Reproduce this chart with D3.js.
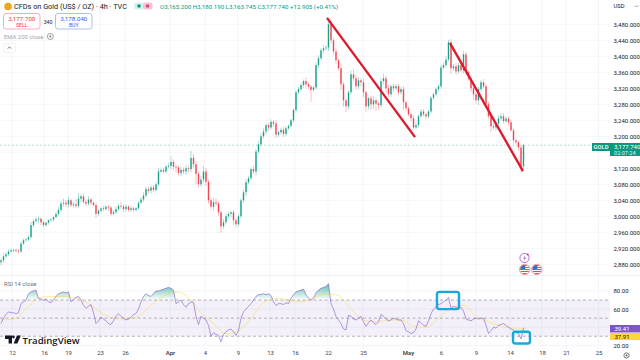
<!DOCTYPE html>
<html>
<head>
<meta charset="utf-8">
<script src="https://cdnjs.cloudflare.com/ajax/libs/d3/7.8.5/d3.min.js"></script>
<style>
html, body { margin: 0; padding: 0; background: #fff; overflow: hidden; }
svg { display: block; font-family: Roboto, sans-serif; }
</style>
</head>
<body>
<div id="chart"></div>
<script>
const closes = [
  2890,2900,2905,2912,2915,2916,2914,2912,2932,2940,
  2942,2948,2978,2988,2992,2994,2985,2978,2984,2990,
  2992,2998,3006,3016,3032,3034,3030,3040,3028,3030,
  3026,3044,3050,3036,3032,3042,3034,3028,3006,3014,
  3020,3018,3024,3022,3006,3010,3018,3026,3024,3018,
  3024,3016,3020,3016,3020,3034,3042,3052,3068,3064,
  3072,3066,3080,3112,3116,3112,3124,3126,3136,3124,
  3122,3108,3116,3112,3120,3118,3146,3130,3106,3080,
  3092,3112,3086,3040,3024,3035,3032,3010,2975,2985,
  3000,3006,3010,2990,2980,3000,3040,3060,3085,3095,
  3118,3112,3162,3180,3200,3212,3228,3222,3236,3232,
  3204,3210,3216,3206,3220,3226,3240,3266,3310,3318,
  3328,3338,3330,3324,3316,3322,3378,3395,3415,3420,
  3422,3480,3440,3412,3390,3370,3330,3290,3275,3310,
  3355,3345,3325,3340,3335,3310,3275,3295,3280,3290,
  3282,3278,3338,3345,3320,3305,3325,3320,3325,3310,
  3318,3285,3270,3255,3245,3222,3228,3250,3262,3255,
  3250,3262,3296,3305,3318,3325,3372,3378,3392,3435,
  3370,3375,3362,3378,3365,3405,3360,3345,3320,3305,
  3290,3318,3335,3325,3280,3250,3225,3222,3232,3245,
  3250,3238,3244,3235,3215,3190,3185,3172,3125,3177.74
];
const firstOpen = 2885;
const upperWick = [
  6,8,5,6,4,3,3,4,5,4,
  3,6,8,4,6,5,3,2,2,3,
  3,2,4,8,6,10,6,8,4,6,
  12,14,6,6,4,8,4,3,6,4,
  4,6,4,4,3,6,6,5,10,6,
  6,4,6,4,3,4,6,8,6,6,
  6,6,6,8,4,6,4,8,14,6,
  5,4,8,6,8,6,18,10,8,6,
  8,14,8,6,6,10,10,6,5,8,
  6,5,4,6,6,5,5,6,8,6,
  4,8,6,8,8,8,6,6,6,5,
  8,4,6,8,5,4,4,4,5,5,
  6,4,10,6,5,4,6,8,6,8,
  6,10,12,6,8,5,12,6,4,5,
  10,12,8,8,6,8,4,4,6,10,
  6,5,8,12,6,8,4,6,6,6,
  5,8,5,5,4,8,6,5,6,6,
  4,4,5,4,4,5,6,6,8,6,
  8,6,8,6,6,8,6,5,8,6,
  5,4,6,8,6,6,5,8,6,8,
  8,8,6,6,6,5,4,5,4,4
];
const lowerWick = [
  8,6,5,4,4,5,4,5,3,4,
  4,5,6,5,6,10,8,6,4,5,
  4,5,3,4,6,8,6,8,5,6,
  6,5,8,5,6,5,6,4,10,5,
  5,5,4,8,5,4,5,4,5,8,
  6,5,6,5,4,3,4,6,5,6,
  8,6,5,4,4,5,5,4,8,8,
  12,6,8,6,8,8,8,8,25,8,
  6,8,10,8,6,10,6,8,16,6,
  5,6,8,12,8,6,5,6,10,5,
  5,6,10,6,5,5,8,8,5,8,
  8,6,6,8,5,4,4,5,6,5,
  5,6,8,6,30,5,5,8,6,8,
  6,8,8,8,8,6,14,16,14,8,
  6,6,8,8,10,12,14,8,14,12,
  18,12,6,8,10,6,6,8,5,8,
  6,20,8,6,8,6,5,6,5,6,
  6,5,5,5,5,5,6,4,6,6,
  14,6,8,6,6,8,8,6,8,14,
  8,12,6,4,5,6,14,6,8,6,
  6,6,5,8,5,8,6,8,16,5
];
const rsi = [
  44,50,54,57,56,56,55,56,66,68,
  70,77,79,80,81,72,71,70,71,68,
  67,70,74,77,78,79,78,79,68,71,
  73,74,70,64,61,63,65,56,44,47,
  51,49,47,44,43,47,52,55,52,50,
  48,49,51,54,55,60,68,74,77,75,
  74,77,80,80,81,82,83,84,83,81,
  66,68,70,65,62,66,68,67,52,43,
  52,50,48,42,30,34,32,31,24,32,
  35,37,38,35,31,36,50,57,60,63,
  66,70,74,76,76,77,76,77,75,68,
  64,66,66,65,67,66,72,76,79,80,
  81,82,76,72,70,72,78,81,83,84,
  85,88,66,60,52,48,44,38,37,53,
  52,49,48,50,52,46,41,45,48,45,
  43,46,54,52,49,47,48,50,49,48,
  48,44,36,35,33,34,38,47,45,42,
  41,47,55,60,62,65,66,68,70,73,
  61,63,62,60,62,58,49,48,47,49,
  50,49,50,50,42,33,36,40,39,42,
  43,44,42,40,38,37,34,33,27,39.41
];
// rsi average, one reading every 5 bars
const rsiAvg = [48,49,60,72,74,74,72,66,56,50,49,52,64,74,79,73,56,44,33,36,50,67,72,70,68,72,77,75,60,48,46,48,48,41,40,50,61,64,52,46,41,39,37.91];
const rsiAvgStep = 5;

const priceTicks = [3480,3440,3400,3360,3320,3280,3240,3200,3120,3080,3040,3000,2960,2920,2880];
const priceGrid = [3480,3440,3400,3360,3320,3280,3240,3200,3160,3120,3080,3040,3000,2960,2920,2880];
const rsiTicks = [80,60,20];
const rsiGrid = [80,60,40,20];
const dateTickBars = [4.4,17.2,26.8,39.6,49.6,67.6,81.6,94.8,107.6,117.6,130.8,144.8,162.8,176,190,203.6,216.4,226,239];
const dateTickLabels = ["12","16","19","23","26","Apr","4","9","13","16","22","25","May","6","9","14","18","21","25"];

const lastPrice = 3177.74;
// hand drawn trend lines: bar, price, bar, price
const trendLines = [[130.4,3496,165.6,3198],[179.6,3433,208.8,3113]];
// highlight boxes on the rsi pane: bar, rsi top, bar, rsi bottom
const rsiBoxes = [[174.4,79,183.2,60],[204.8,35,211.6,22]];

const W = 640, H = 360, axisX = 610;
const UP = "#089981", DOWN = "#F23645", INK = "#131722";

const x = d3.scaleLinear().domain([0,256]).range([1,641]);
const y = d3.scaleLinear().domain([3480,2880]).range([24.3,264.3]);
const yr = d3.scaleLinear().domain([80,20]).range([291,345.3]);

const svg = d3.select("#chart").append("svg").attr("width",W).attr("height",H);
svg.append("rect").attr("width",W).attr("height",H).attr("fill","#fff");

// grid
svg.append("g").selectAll("line").data(dateTickBars).enter().append("line")
    .attr("x1",d => x(d)).attr("x2",d => x(d)).attr("y1",0).attr("y2",349)
    .attr("stroke","#f3f5fa").attr("stroke-width",1);
svg.append("g").selectAll("line").data(priceGrid).enter().append("line")
    .attr("x1",0).attr("x2",axisX).attr("y1",d => y(d)).attr("y2",d => y(d))
    .attr("stroke","#f3f5fa");
svg.append("g").selectAll("line").data(rsiGrid).enter().append("line")
    .attr("x1",0).attr("x2",axisX).attr("y1",d => yr(d)).attr("y2",d => yr(d))
    .attr("stroke","#f3f5fa");
svg.append("line").attr("x1",0).attr("x2",W).attr("y1",275.5).attr("y2",275.5).attr("stroke","#eceef3");

// candles
const bars = closes.map((c,i) => {
    const o = i ? closes[i-1] : firstOpen;
    return { i, o, c, h: Math.max(o,c) + upperWick[i], l: Math.min(o,c) - lowerWick[i] };
});
const candle = svg.append("g").selectAll("g").data(bars).enter().append("g")
    .attr("fill",d => d.c >= d.o ? UP : DOWN)
    .attr("stroke",d => d.c >= d.o ? UP : DOWN);
candle.append("line")
    .attr("x1",d => x(d.i)).attr("x2",d => x(d.i))
    .attr("y1",d => y(d.h)).attr("y2",d => y(d.l))
    .attr("stroke-width",0.6).attr("stroke-opacity",0.55);
candle.append("rect")
    .attr("x",d => x(d.i)-0.7).attr("width",1.4)
    .attr("y",d => Math.min(y(d.o),y(d.c)))
    .attr("height",d => Math.max(0.6,Math.abs(y(d.o)-y(d.c))))
    .attr("stroke","none").attr("fill-opacity",0.9);

// last price line
svg.append("line").attr("x1",0).attr("x2",axisX).attr("y1",y(lastPrice)).attr("y2",y(lastPrice))
    .attr("stroke",UP).attr("stroke-opacity",0.45).attr("stroke-width",0.7).attr("stroke-dasharray","2 2");

// trend lines
svg.append("g").selectAll("line").data(trendLines).enter().append("line")
    .attr("x1",d => x(d[0])).attr("y1",d => y(d[1]))
    .attr("x2",d => x(d[2])).attr("y2",d => y(d[3]))
    .attr("stroke","#DC1C2E").attr("stroke-width",2.4);

// rsi pane
svg.append("rect").attr("x",0).attr("width",axisX)
    .attr("y",yr(70)).attr("height",yr(30)-yr(70))
    .attr("fill","#7E57C2").attr("fill-opacity",0.09);
svg.append("g").selectAll("line").data([70,50,30]).enter().append("line")
    .attr("x1",0).attr("x2",axisX).attr("y1",d => yr(d)).attr("y2",d => yr(d))
    .attr("stroke","#787B86").attr("stroke-width",0.7).attr("stroke-dasharray","3 2.5").attr("stroke-opacity",0.8);

const defs = svg.append("defs");
const grad = defs.append("linearGradient").attr("id","obFill")
    .attr("gradientUnits","userSpaceOnUse").attr("x1",0).attr("x2",0).attr("y1",yr(88)).attr("y2",yr(70));
grad.append("stop").attr("offset",0).attr("stop-color",UP).attr("stop-opacity",0.65);
grad.append("stop").attr("offset",1).attr("stop-color",UP).attr("stop-opacity",0);
defs.append("clipPath").attr("id","obClip").append("rect")
    .attr("x",0).attr("width",axisX).attr("y",270).attr("height",yr(70)-270);

svg.append("path").datum(rsi)
    .attr("d",d3.area().x((d,i) => x(i)).y0(yr(70)).y1(d => yr(d)))
    .attr("fill","url(#obFill)").attr("clip-path","url(#obClip)");

svg.append("path").datum(rsiAvg)
    .attr("d",d3.line().curve(d3.curveMonotoneX).x((d,i) => x(i*rsiAvgStep)).y(d => yr(d)))
    .attr("fill","none").attr("stroke","#FDD835").attr("stroke-width",0.8).attr("stroke-opacity",0.6);
svg.append("path").datum(rsi)
    .attr("d",d3.line().x((d,i) => x(i)).y(d => yr(d)))
    .attr("fill","none").attr("stroke","#7E57C2").attr("stroke-width",0.7).attr("stroke-opacity",0.85);

svg.append("g").selectAll("rect").data(rsiBoxes).enter().append("rect")
    .attr("x",d => x(d[0])).attr("y",d => yr(d[1]))
    .attr("width",d => x(d[2])-x(d[0])).attr("height",d => yr(d[3])-yr(d[1]))
    .attr("rx",2.5).attr("fill","none").attr("stroke","#1AA7DC").attr("stroke-width",2.4);

svg.append("text").attr("x",4).attr("y",285.5).attr("font-size",5.9).attr("fill","#6a6f7b").text("RSI 14 close");

// axes
const priceAxis = svg.append("g").attr("transform",`translate(${axisX+3.5},0)`)
    .call(d3.axisRight(y).tickValues(priceTicks).tickSize(0).tickPadding(0).tickFormat(d3.format(",.3f")));
const rsiAxis = svg.append("g").attr("transform",`translate(${axisX+3.5},0)`)
    .call(d3.axisRight(yr).tickValues(rsiTicks).tickSize(0).tickPadding(0).tickFormat(d3.format(".2f")));
const timeAxis = svg.append("g").attr("transform","translate(0,351)")
    .call(d3.axisBottom(x).tickValues(dateTickBars).tickSize(0).tickPadding(0)
        .tickFormat((d,i) => dateTickLabels[i]));
[priceAxis,rsiAxis,timeAxis].forEach(g => {
    g.select(".domain").remove();
    g.selectAll("text").attr("font-family","Roboto, sans-serif").attr("font-size",6).attr("fill",INK);
});
timeAxis.selectAll("text").attr("fill","#3a3f4c");
timeAxis.selectAll("text").filter((d,i) => dateTickLabels[i] === "Apr" || dateTickLabels[i] === "May").attr("font-weight",600);

svg.append("text").attr("x",613.5).attr("y",8.2).attr("font-size",5.8).attr("fill",INK).text("USD");
svg.append("path").attr("d","M635 5.5l1.5 1.5l1.5-1.5").attr("fill","none").attr("stroke","#555").attr("stroke-width",0.6);

// last price tags
svg.append("rect").attr("x",592).attr("y",143).attr("width",18).attr("height",8).attr("fill",UP);
svg.append("text").attr("x",601).attr("y",149.2).attr("text-anchor","middle").attr("font-size",5.8).attr("font-weight",500).attr("fill","#fff").text("GOLD");
svg.append("rect").attr("x",610).attr("y",143).attr("width",30).attr("height",13).attr("fill",UP);
svg.append("text").attr("x",614).attr("y",148.8).attr("font-size",6).attr("fill","#fff").text("3,177.740");
svg.append("text").attr("x",614).attr("y",154.6).attr("font-size",5.6).attr("fill","#fff").attr("fill-opacity",0.9).text("02:07:24");

svg.append("rect").attr("x",610).attr("y",325).attr("width",30).attr("height",7.5).attr("fill","#7E57C2");
svg.append("text").attr("x",614.5).attr("y",331).attr("font-size",6).attr("fill","#fff").text("39.41");
svg.append("rect").attr("x",610).attr("y",333).attr("width",30).attr("height",7).attr("fill","#FDD835");
svg.append("text").attr("x",614.5).attr("y",339).attr("font-size",6).attr("fill",INK).text("37.91");

// header
svg.append("circle").attr("cx",8).attr("cy",6.5).attr("r",3.8).attr("fill","#E8A920");
svg.append("text").attr("x",14).attr("y",9.3).attr("font-size",7.3).attr("fill",INK).text("CFDs on Gold (US$ / OZ) · 4h · TVC");
svg.append("rect").attr("x",134).attr("y",2.5).attr("width",9.5).attr("height",7).attr("rx",2).attr("fill","#d8f1ea");
svg.append("rect").attr("x",143).attr("y",2.5).attr("width",9.5).attr("height",7).attr("rx",2).attr("fill","#f8c4d2");
svg.append("circle").attr("cx",139).attr("cy",6).attr("r",1.8).attr("fill",UP);
svg.append("circle").attr("cx",147.5).attr("cy",6).attr("r",1.8).attr("fill","#E0457B");
svg.append("text").attr("x",160).attr("y",8.8).attr("font-size",6.15).attr("fill",UP)
    .text("O3,165.200 H3,180.190 L3,163.745 C3,177.740 +12.905 (+0.41%)");

const orderBoxes = [
    { x: 3.5, price: "3,177.700", side: "SELL", color: "#F23645", border: "#f3a3b4" },
    { x: 55.5, price: "3,178.040", side: "BUY", color: "#2962FF", border: "#a5b9f2" }
];
orderBoxes.forEach(b => {
    svg.append("rect").attr("x",b.x).attr("y",13.5).attr("width",36.5).attr("height",15.5).attr("rx",2.5)
        .attr("fill","#fff").attr("stroke",b.border).attr("stroke-width",0.9);
    svg.append("text").attr("x",b.x+18.25).attr("y",20.6).attr("text-anchor","middle").attr("font-size",6.2).attr("fill",b.color).text(b.price);
    svg.append("text").attr("x",b.x+18.25).attr("y",27).attr("text-anchor","middle").attr("font-size",5.2).attr("fill",b.color).text(b.side);
});
svg.append("text").attr("x",48).attr("y",23.5).attr("text-anchor","middle").attr("font-size",5.2).attr("fill",INK).text("340");
svg.append("text").attr("x",4).attr("y",38.6).attr("font-size",5.9).attr("fill","#a3a6af").text("EMA 200 close");
svg.append("circle").attr("cx",50.3).attr("cy",36.5).attr("r",3).attr("fill","none").attr("stroke","#777").attr("stroke-width",0.7);
svg.append("circle").attr("cx",50.3).attr("cy",36.5).attr("r",1).attr("fill","#777");
svg.append("rect").attr("x",3.5).attr("y",43.5).attr("width",12).attr("height",9).attr("rx",1).attr("fill","#fff").attr("stroke","#eceef2").attr("stroke-width",0.7);
svg.append("path").attr("d","M7.8 48.6l1.7-1.7l1.7 1.7").attr("fill","none").attr("stroke","#333").attr("stroke-width",0.7);

// event icons
svg.append("circle").attr("cx",524.5).attr("cy",258).attr("r",4.6).attr("fill","#fff").attr("stroke","#B060D0").attr("stroke-width",0.9);
svg.append("path").attr("d","M525.3 255.4l-2.2 3h1.6l-0.7 2.4l2.3-3.1h-1.6z").attr("fill","#B060D0");
svg.append("circle").attr("cx",527.8).attr("cy",254.6).attr("r",1).attr("fill","#F23645");
[524.7,536.8].forEach((cx,k) => {
    const id = "flag" + k;
    defs.append("clipPath").attr("id",id).append("circle").attr("cx",cx).attr("cy",269.5).attr("r",4.6);
    const f = svg.append("g").attr("clip-path",`url(#${id})`);
    f.append("rect").attr("x",cx-5).attr("y",264).attr("width",10).attr("height",11).attr("fill","#fff");
    [265,267,269,271,273].forEach(sy => f.append("rect").attr("x",cx-5).attr("y",sy).attr("width",10).attr("height",1).attr("fill","#E8484F"));
    f.append("rect").attr("x",cx-5).attr("y",264).attr("width",5.5).attr("height",5).attr("fill","#3B6FC4");
    svg.append("circle").attr("cx",cx).attr("cy",269.5).attr("r",5.2).attr("fill","none").attr("stroke","#F08A90").attr("stroke-width",0.9);
});

// watermark
const logo = svg.append("g").attr("fill","#131722");
logo.append("path").attr("d","M5 335.5h7v8h-3.4v-4.4H5z");
logo.append("circle").attr("cx",13.4).attr("cy",337).attr("r",1.4);
logo.append("path").attr("d","M17 335.5h3.8l-3.4 8h-3.8z");
svg.append("text").attr("x",22.5).attr("y",343.6).attr("font-size",9.6).attr("font-weight",600)
    .attr("font-family","'Open Sans', sans-serif").attr("fill","#131722").text("TradingView");

// settings gear
svg.append("circle").attr("cx",626.5).attr("cy",355.5).attr("r",2.6).attr("fill","none").attr("stroke","#555").attr("stroke-width",0.8);
svg.append("circle").attr("cx",626.5).attr("cy",355.5).attr("r",0.9).attr("fill","#555");
</script>
</body>
</html>
